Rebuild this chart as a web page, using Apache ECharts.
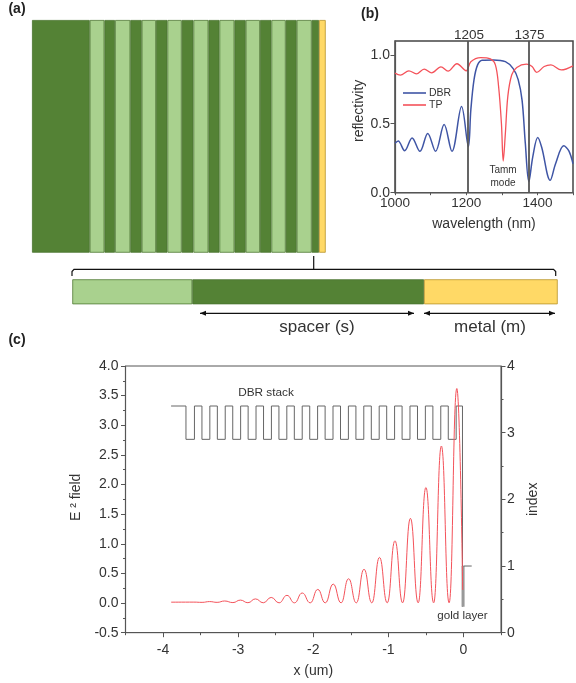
<!DOCTYPE html>
<html><head><meta charset="utf-8">
<style>html,body{margin:0;padding:0;background:#fff}#c{width:576px;height:683px}</style>
<script src="https://cdn.jsdelivr.net/npm/echarts@6/dist/echarts.min.js"></script>
</head><body><div id="c"></div>
<script>
// (a) layer stack: thickness of each layer, D = dark, L = light, G = gold
const stackKinds = ['D','L','D','L','D','L','D','L','D','L','D','L','D','L','D','L','D','L','D','G'];
const stackWidths = [57.7,14.7,10.6,15.3,11.4,14.3,11.4,14.3,11.7,15,11,15,11.3,14.3,11.4,14.3,11,15,7.3,6.7];
const detailKinds = ['L','D','G'];
const detailWidths = [120,231.7,133.7];
// (b) reflectivity
const dbrX = [1000,1009,1027,1048,1070,1092,1114,1138,1160,1187,1206,1213,1222,1232,1245,1277,1310,1332,1346,1357,1366,1376,1387,1401,1412,1436,1451,1474,1488,1500];
const dbrY = [.358,.375,.305,.397,.30,.43,.30,.494,.30,.625,.334,.60,.82,.927,.96,.963,.95,.90,.82,.67,.36,.08,.26,.40,.33,.09,.21,.34,.305,.21];
const tpX = [1000,1015,1039,1060,1082,1103,1129,1149,1174,1200,1213,1241,1268,1282,1291,1299,1304,1310,1317,1328,1342,1369,1385,1398,1419,1438,1467,1500];
const tpY = [.867,.852,.884,.862,.896,.869,.913,.881,.935,.884,.95,.98,.97,.927,.77,.50,.23,.43,.70,.855,.908,.932,.915,.872,.915,.927,.89,.92];
const markers = [1205,1375];
const wavelengthLabels = [1000,1200,1400];
// (c) field and index profile
const fieldX = [-3.893,-3.59,-3.48,-3.38,-3.28,-3.18,-3.07,-2.97,-2.87,-2.77,-2.665,-2.56,-2.455,-2.35,-2.25,-2.147,-2.04,-1.94,-1.84,-1.734,-1.63,-1.53,-1.427,-1.324,-1.22,-1.118,-1.015,-.912,-.81,-.706,-.603,-.5,-.397,-.294,-.191,-.088,-.01];
const fieldY = [.015,.016,.012,.025,.012,.035,.008,.05,.006,.07,.005,.095,.004,.13,.004,.17,.004,.23,.004,.32,.004,.41,.004,.57,.004,.77,.004,1.05,.004,1.43,.004,1.95,.004,2.65,.004,3.62,.22];
const indexX = [-3.893,-3.695,-3.582,-3.482,-3.377,-3.277,-3.172,-3.072,-2.967,-2.867,-2.762,-2.662,-2.557,-2.457,-2.352,-2.252,-2.147,-2.047,-1.942,-1.842,-1.737,-1.637,-1.532,-1.432,-1.327,-1.227,-1.122,-1.022,-.917,-.817,-.712,-.612,-.507,-.407,-.302,-.202,-.097,-.013,-.013];
const indexN = [3.4,2.9,3.4,2.9,3.4,2.9,3.4,2.9,3.4,2.9,3.4,2.9,3.4,2.9,3.4,2.9,3.4,2.9,3.4,2.9,3.4,2.9,3.4,2.9,3.4,2.9,3.4,2.9,3.4,2.9,3.4,2.9,3.4,2.9,3.4,2.9,3.4,.39,.39];
const goldX = [-.005,-.005];
const goldN = [.39,1];
const airX = [0,.11];
const airN = [1,1];
const xTicksMajor = [-4,-3,-2,-1,0];

const zip = (a,b)=>a.map((v,i)=>[v,b[i]]);
const FONT = '"Liberation Sans", Arial, sans-serif';
const fills = {D:'#548235', L:'#A9D18E', G:'#FFD966'};
const edges = {D:'#4a7430', L:'#4f7a34', G:'#B8932a'};
const INK = '#333', AX = '#555';

const stackSeries = (kinds, widths, idx) => kinds.map((k,i)=>({
  type:'bar', stack:'s'+idx, xAxisIndex:idx, yAxisIndex:idx, data:[widths[i]], barWidth:'100%', silent:true,
  itemStyle:{color:fills[k], borderColor:edges[k], borderWidth:.8}
}));
const sum = a=>a.reduce((x,y)=>x+y,0);
const hideAxis = (max)=>({type:'value', min:0, max, show:false});
const tickAx = (extra)=>Object.assign({
  axisLine:{show:true, onZero:false, lineStyle:{color:AX, width:1.2}},
  axisTick:{show:true, length:4.5, lineStyle:{color:AX}},
  splitLine:{show:false},
  axisLabel:{color:INK, fontSize:14, fontFamily:FONT, margin:5},
  nameTextStyle:{color:INK, fontSize:14, fontFamily:FONT},
  nameLocation:'middle'
},extra);
const minor = {show:true, splitNumber:2, length:2.5, lineStyle:{color:AX}};

const text = (x,y,t,size,extra)=>({type:'text', x, y, silent:true, style:Object.assign({text:t, fontSize:size, fontFamily:FONT, fill:INK, textAlign:'center', textVerticalAlign:'middle'},extra||{})});
const seg = (pts,w)=>({type:'polyline', silent:true, shape:{points:pts}, style:{stroke:'#111', lineWidth:w||1.2, fill:null}});
const tri = (x,y,d)=>({type:'polygon', silent:true, shape:{points:[[x,y],[x-d*6,y-2.5],[x-d*6,y+2.5]]}, style:{fill:'#111'}});

const option = {
  animation:false, backgroundColor:'#fff',
  grid:[
    {left:32, top:20, width:293.7, height:232.7},
    {left:72.3, top:279.3, width:485.4, height:25},
    {left:395, top:41, width:181, height:151.7, show:true, borderColor:'#444', borderWidth:1.5, backgroundColor:'transparent'},
    {left:125.5, top:366, width:375.5, height:266.7, show:true, borderColor:AX, borderWidth:1, backgroundColor:'transparent'}
  ],
  xAxis:[
    hideAxis(sum(stackWidths)),
    Object.assign(hideAxis(sum(detailWidths)),{gridIndex:1}),
    tickAx({gridIndex:2, type:'value', min:1000, max:1500, interval:100, name:'wavelength (nm)', nameGap:24,
      axisLabel:{color:INK, fontSize:13.5, fontFamily:FONT, margin:4, formatter:v=>wavelengthLabels.includes(v)?String(v):''},
      axisTick:{show:true, length:2.5, lineStyle:{color:AX}}}),
    tickAx({gridIndex:3, type:'value', min:-4.5, max:.5, interval:.5, name:'x (um)', nameGap:31,
      axisLabel:{color:INK, fontSize:14, fontFamily:FONT, margin:10, customValues:xTicksMajor},
      axisTick:{show:true, length:4.5, lineStyle:{color:AX}, customValues:xTicksMajor}}),
    {gridIndex:3, type:'value', min:-4.5, max:.5, interval:.5, position:'bottom',
      axisLine:{show:false, onZero:false}, splitLine:{show:false}, axisLabel:{show:false},
      axisTick:{show:true, length:2.5, lineStyle:{color:AX}}}
  ],
  yAxis:[
    {type:'category', data:['a'], show:false},
    {type:'category', gridIndex:1, data:['b'], show:false},
    tickAx({gridIndex:2, type:'value', min:0, max:1.1, interval:.5, name:'reflectivity', nameGap:27,
      nameTextStyle:{color:INK, fontSize:14, fontFamily:FONT, padding:[0,0,0,12]},
      axisLabel:{color:INK, fontSize:14, fontFamily:FONT, margin:5, showMaxLabel:false, formatter:v=>v>1.05?'':v.toFixed(1)}}),
    tickAx({gridIndex:3, type:'value', min:-.5, max:4, interval:.5, name:'E ² field', nameGap:34,
      nameTextStyle:{color:INK, fontSize:14, fontFamily:FONT, padding:[0,0,0,4]},
      axisLabel:{color:INK, fontSize:14, fontFamily:FONT, margin:7, formatter:v=>v.toFixed(1)}, minorTick:minor}),
    tickAx({gridIndex:3, type:'value', position:'right', min:0, max:4, interval:1, name:'index', nameRotate:90, nameGap:18,
      axisLabel:{color:INK, fontSize:14, fontFamily:FONT, margin:6}, minorTick:minor})
  ],
  legend:{data:['DBR','TP'], orient:'vertical', left:403, top:87, icon:'rect', itemWidth:23, itemHeight:1.6, itemGap:0, padding:0,
    textStyle:{color:INK, fontSize:10.5, fontFamily:FONT, lineHeight:12, padding:[0,0,0,-2]}},
  series:[
    ...stackSeries(stackKinds, stackWidths, 0),
    ...stackSeries(detailKinds, detailWidths, 1),
    {name:'DBR', type:'line', xAxisIndex:2, yAxisIndex:2, data:zip(dbrX,dbrY), smooth:.35, symbol:'none', z:3,
      lineStyle:{color:'#3F55A5', width:1.5}, itemStyle:{color:'#3F55A5'}},
    {name:'TP', type:'line', xAxisIndex:2, yAxisIndex:2, data:zip(tpX,tpY), smooth:.35, symbol:'none', z:4,
      lineStyle:{color:'#F4525A', width:1.3}, itemStyle:{color:'#F4525A'},
      markLine:{silent:true, symbol:'none', animation:false,
        lineStyle:{color:'#555', width:1.8, type:'solid'},
        label:{show:true, position:'end', distance:1, offset:[1,2], color:INK, fontSize:13.5, fontFamily:FONT, formatter:p=>String(p.value)},
        data:markers.map(m=>({xAxis:m}))}},
    {name:'index', type:'line', xAxisIndex:3, yAxisIndex:4, data:zip(indexX,indexN), step:'end', symbol:'none', z:3,
      lineStyle:{color:'#666', width:1}},
    {name:'gold', type:'line', xAxisIndex:3, yAxisIndex:4, data:zip(goldX,goldN), symbol:'none', z:3,
      lineStyle:{color:'#999', width:3}},
    {name:'air', type:'line', xAxisIndex:3, yAxisIndex:4, data:zip(airX,airN), symbol:'none', z:3,
      lineStyle:{color:'#666', width:1}},
    {name:'field', type:'line', xAxisIndex:3, yAxisIndex:3, data:zip(fieldX,fieldY), smooth:.5, smoothMonotone:'x', symbol:'none', z:4,
      lineStyle:{color:'#F4525A', width:1}}
  ],
  graphic:[
    text(17,9,'(a)',14,{fontWeight:'bold',fill:'#222'}),
    text(370,14,'(b)',14,{fontWeight:'bold',fill:'#222'}),
    text(17,340,'(c)',14,{fontWeight:'bold',fill:'#222'}),
    text(503,170,'Tamm',10),
    text(503,183,'mode',10),
    text(266,392.7,'DBR stack',11.8),
    text(462.5,616,'gold layer',11.6),
    text(317,327.5,'spacer (s)',17),
    text(490,327.5,'metal (m)',17),
    seg([[72,276],[72,271.5],[74,269.3],[553.5,269.3],[555.7,271.5],[555.7,276]]),
    seg([[313.7,256],[313.7,269.3]]),
    seg([[200,313.3],[414,313.3]],1.2),
    tri(200,313.3,-1), tri(414,313.3,1),
    seg([[424,313.3],[555,313.3]],1.2),
    tri(424,313.3,-1), tri(555,313.3,1)
  ]
};
echarts.init(document.getElementById('c'),null,{renderer:'canvas'}).setOption(option);
</script></body></html>
